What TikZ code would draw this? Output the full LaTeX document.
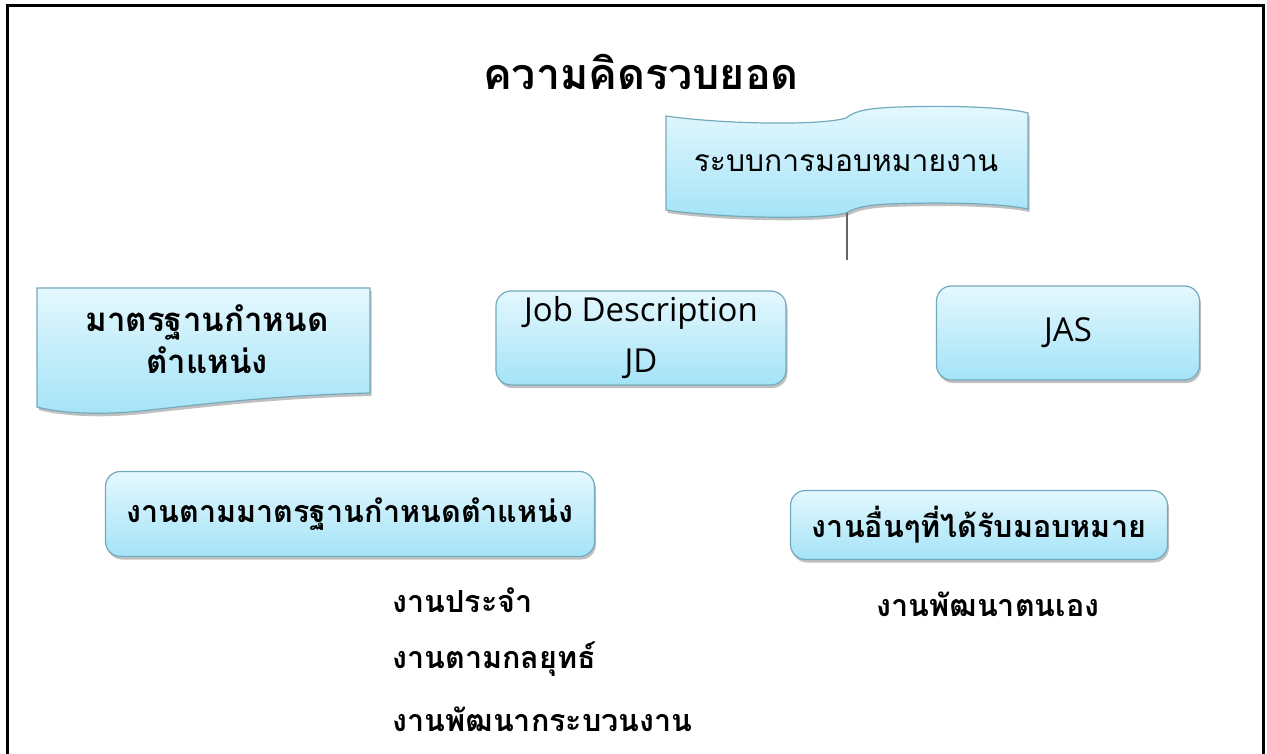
\documentclass[tikz,border=0pt]{standalone}
\usepackage{fontspec}
\newfontfamily\thai[Script=Thai]{Loma}
\newfontfamily\lat{Open Sans}
\usetikzlibrary{shadows}
\definecolor{boxtop}{HTML}{E4F8FE}
\definecolor{boxbot}{HTML}{A4E3F7}
\definecolor{boxline}{HTML}{74AABD}
\begin{document}
\begin{tikzpicture}[x=1pt,y=-1pt,
  shade/.style={draw=boxline, line width=1.2pt, top color=boxtop, bottom color=boxbot,
    drop shadow={opacity=0.35, shadow xshift=1.5pt, shadow yshift=-3pt, fill=black!70}},
  box/.style={shade, rounded corners=15pt, inner sep=0pt, align=center},
  bodytxt/.style={font=\thai\bfseries\fontsize{30.5}{34}\selectfont},
  lattxt/.style={font=\lat\fontsize{33}{38}\selectfont},
  regtxt/.style={font=\thai\fontsize{30}{34}\selectfont},
]
\useasboundingbox (0,0) rectangle (1267,754);
\fill[white] (0,0) rectangle (1267,754);
\draw[line width=3pt] (7,760) -- (7,6) -- (1263,6) -- (1263,760);

% title
\node[font=\thai\bfseries\fontsize{43}{48}\selectfont] (title) at (641,72) {ความคิดรวบยอด};

% banner
\path[shade] (666,116) .. controls (720,124) and (820,126) .. (846,118)
  .. controls (856,110) and (870,108) .. (900,107)
  .. controls (960,105) and (1010,108) .. (1028,113) -- (1028,209)
  .. controls (1000,203) and (940,202) .. (890,204)
  .. controls (865,205) and (855,208) .. (846,213)
  .. controls (820,220) and (720,218) .. (666,210) -- cycle;
\node[regtxt] (banner) at (846,163) {ระบบการมอบหมายงาน};
\coordinate (bannerfoot) at (847,213);
\coordinate (stem) at (847,260);
\draw[line width=1.8pt, black!60] (bannerfoot) -- (stem);

% document shape
\path[shade] (37,288) -- (370,288) -- (370,393)
  .. controls (290,395) and (230,401) .. (150,410)
  .. controls (100,416) and (60,413) .. (37,407) -- cycle;
\node[font=\thai\bfseries\fontsize{33}{38}\selectfont, align=center] (std) at (207,339) {มาตรฐานกำหนด\\[4pt]ตำแหน่ง};

% JD
\node[box, lattxt, minimum width=290, minimum height=94] (jd) at (641,338)
  {Job Description\\[13pt]JD};
% JAS
\node[box, lattxt, minimum width=263, minimum height=94] (jas) at (1068,333) {JAS};

% lower boxes
\node[box, bodytxt, minimum width=489, minimum height=85] (work1) at (350,514)
  {งานตามมาตรฐานกำหนดตำแหน่ง};
\node[box, bodytxt, minimum width=377, minimum height=69] (work2) at (979,525)
  {งานอื่นๆที่ได้รับมอบหมาย};

% lists
\node[bodytxt, anchor=west] (l1) at (389,600) {งานประจำ};
\node[bodytxt, anchor=west] (l2) at (389,659) {งานตามกลยุทธ์};
\node[bodytxt, anchor=west] (l3) at (389,719) {งานพัฒนากระบวนงาน};
\node[bodytxt, anchor=west] (r1) at (873,604) {งานพัฒนาตนเอง};
\end{tikzpicture}
\end{document}
